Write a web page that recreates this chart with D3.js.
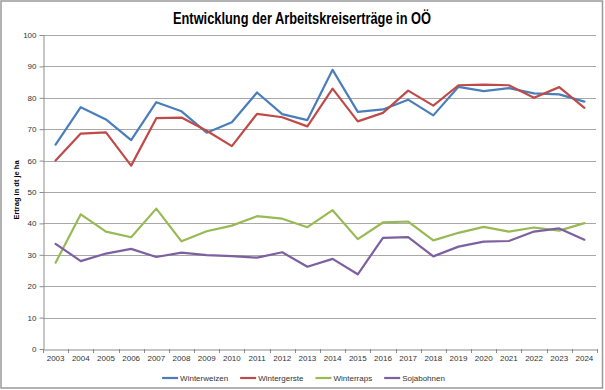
<!DOCTYPE html>
<html><head><meta charset="utf-8">
<script src="https://cdn.jsdelivr.net/npm/d3@7"></script>
<style>body{margin:0;background:#fff}svg{display:block}text{font-family:"Liberation Sans",Arial,sans-serif}</style>
</head><body>
<svg id="c" width="605" height="390"></svg>
<script>
const years = ["2003","2004","2005","2006","2007","2008","2009","2010","2011","2012","2013","2014","2015","2016","2017","2018","2019","2020","2021","2022","2023","2024"];
const winterweizen = [65.1,77.0,73.1,66.5,78.6,75.7,68.9,72.2,81.7,74.8,72.9,88.9,75.5,76.3,79.4,74.4,83.5,82.1,83.1,81.4,81.1,78.8];
const wintergerste = [60.0,68.6,69.0,58.4,73.5,73.7,69.5,64.6,74.9,73.8,70.9,82.9,72.5,75.2,82.3,77.5,84.0,84.2,84.0,80.0,83.4,76.8];
const winterraps   = [27.5,42.9,37.4,35.6,44.7,34.3,37.5,39.3,42.3,41.5,38.8,44.2,35.0,40.3,40.6,34.6,37.0,38.9,37.4,38.7,37.7,40.1];
const sojabohnen   = [33.5,28.0,30.4,31.9,29.3,30.7,29.9,29.6,29.1,30.8,26.2,28.7,23.8,35.4,35.6,29.5,32.6,34.2,34.4,37.4,38.4,34.8];
const seriesNames = ["Winterweizen","Wintergerste","Winterraps","Sojabohnen"];
const seriesColors = ["#4a7ebb","#be4b48","#98b954","#7d60a0"];
const yTicks = [0,10,20,30,40,50,60,70,80,90,100];
const title = "Entwicklung der Arbeitskreiserträge in OÖ";
const yTitle = "Ertrag in dt je ha";

const svg = d3.select("#c");
svg.append("rect").attr("x",1).attr("y",1).attr("width",601.5).attr("height",387)
  .attr("fill","#fff").attr("stroke","#999").attr("stroke-width",1.5);

const L=43, R=597, T=35, B=349;
const x = d3.scaleBand().domain(years).range([L,R]).padding(0);
const y = d3.scaleLinear().domain([0,100]).range([B,T]);
const cx = d => x(d)+x.bandwidth()/2;

// gridlines
svg.append("g").selectAll("line").data(yTicks.filter(v=>v>0)).join("line")
  .attr("x1",L).attr("x2",R-1).attr("y1",d=>Math.round(y(d))+0.5).attr("y2",d=>Math.round(y(d))+0.5)
  .attr("stroke","#a8a8a8").attr("stroke-width",1);

// y axis
const ya = svg.append("g").attr("transform",`translate(${L+0.5},0)`)
  .call(d3.axisLeft(y).tickValues(yTicks).tickSize(4).tickSizeOuter(0).tickPadding(3));
ya.select(".domain").attr("stroke","#8c8c8c");
ya.selectAll(".tick line").attr("stroke","#8c8c8c");
ya.selectAll(".tick text").attr("font-size","8px").attr("fill","#333").attr("font-family","Liberation Sans, Arial, sans-serif");

// x axis
const xa = svg.append("g").attr("transform",`translate(0,${Math.round(B)+0.5})`)
  .call(d3.axisBottom(x).tickSize(0).tickPadding(6));
xa.select(".domain").attr("stroke","#8c8c8c");
xa.selectAll(".tick text").attr("font-size","8px").attr("fill","#333").attr("font-family","Liberation Sans, Arial, sans-serif");
const bounds = years.map(d=>x(d)).concat([x(years[years.length-1])+x.bandwidth()]);
svg.append("g").selectAll("line").data(bounds).join("line")
  .attr("x1",d=>Math.round(d)+0.5).attr("x2",d=>Math.round(d)+0.5)
  .attr("y1",B).attr("y2",B+4).attr("stroke","#8c8c8c");

// lines
const data = [winterweizen, wintergerste, winterraps, sojabohnen];
const line = d3.line().x((d,i)=>cx(years[i])).y(d=>y(d));
svg.append("g").selectAll("path").data(data).join("path")
  .attr("d",line).attr("fill","none")
  .attr("stroke",(d,i)=>seriesColors[i]).attr("stroke-width",2.2)
  .attr("stroke-linejoin","round").attr("stroke-linecap","round");

// title
svg.append("text").attr("x",302).attr("y",24).attr("text-anchor","middle")
  .attr("font-size","16px").attr("font-weight","bold").attr("fill","#000")
  .attr("textLength",258).attr("lengthAdjust","spacingAndGlyphs").text(title);

// y title
svg.append("text").attr("transform","translate(19,190) rotate(-90)").attr("text-anchor","middle")
  .attr("font-size","7.5px").attr("font-weight","bold").attr("fill","#000").text(yTitle);

// legend
const lg = svg.append("g");
let lx = 0;
seriesNames.forEach((n,i)=>{
  const g = lg.append("g");
  g.append("line").attr("x1",0).attr("x2",16).attr("y1",0).attr("y2",0)
    .attr("stroke",seriesColors[i]).attr("stroke-width",2.2);
  const t = g.append("text").attr("x",18).attr("y",3).attr("font-size","8px").attr("fill","#333").text(n);
  const w = 18 + t.node().getComputedTextLength();
  g.attr("transform",`translate(${lx},0)`);
  lx += w + 12;
});
const total = lx - 12;
lg.attr("transform",`translate(${303.5-total/2},378)`);
</script>
</body></html>
